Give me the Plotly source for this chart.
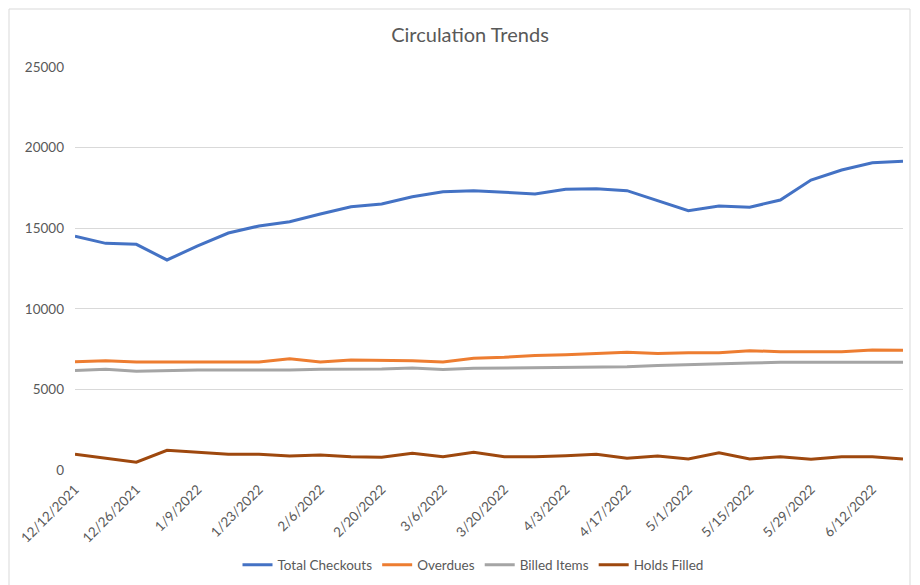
import plotly.graph_objects as go

dates = ["12/12/2021", "12/19/2021", "12/26/2021", "1/2/2022", "1/9/2022", "1/16/2022",
         "1/23/2022", "1/30/2022", "2/6/2022", "2/13/2022", "2/20/2022", "2/27/2022",
         "3/6/2022", "3/13/2022", "3/20/2022", "3/27/2022", "4/3/2022", "4/10/2022",
         "4/17/2022", "4/24/2022", "5/1/2022", "5/8/2022", "5/15/2022", "5/22/2022",
         "5/29/2022", "6/5/2022", "6/12/2022", "6/19/2022"]

total_checkouts = [14510, 14060, 14000, 13030, 13900, 14700, 15140, 15400, 15880, 16330,
                   16500, 16950, 17260, 17330, 17230, 17120, 17410, 17450, 17330, 16700,
                   16090, 16380, 16300, 16750, 17990, 18610, 19060, 19150]
overdues = [6720, 6780, 6700, 6700, 6660, 6700, 6700, 6900, 6700, 6820,
            6800, 6780, 6700, 6930, 6990, 7110, 7150, 7240, 7300, 7220,
            7280, 7280, 7400, 7340, 7340, 7340, 7440, 7430]
billed_items = [6180, 6245, 6120, 6170, 6200, 6200, 6200, 6200, 6250, 6260,
                6260, 6320, 6240, 6310, 6330, 6350, 6350, 6370, 6410, 6490,
                6550, 6600, 6640, 6680, 6680, 6680, 6680, 6680]
holds_filled = [970, 725, 480, 1220, 1100, 975, 975, 870, 930, 825,
                785, 1035, 825, 1100, 825, 825, 890, 970, 725, 870,
                680, 1075, 680, 825, 660, 825, 825, 680]

tick_labels = dates[::2]
y_ticks = [0, 5000, 10000, 15000, 20000, 25000]
y_tick_text = ["0", "5000", "10000", "15000", "20000", "25000"]

series = [
    ("Total Checkouts", total_checkouts, "#4472C4"),
    ("Overdues", overdues, "#ED7D31"),
    ("Billed Items", billed_items, "#A5A5A5"),
    ("Holds Filled", holds_filled, "#9E480E"),
]

FONT = "Lato"
TXT = "#595959"
W, H = 912, 577          # page body has an 8px margin
L, R, T, B = 67, 17, 59, 115
PW, PH = W - L - R, H - T - B

fig = go.Figure()
for name, vals, color in series:
    fig.add_trace(go.Scatter(x=dates, y=vals, name=name, mode="lines",
                             line=dict(color=color, width=3)))

fig.update_layout(
    width=W, height=H,
    margin=dict(l=L, r=R, t=T, b=B, autoexpand=False),
    paper_bgcolor="white", plot_bgcolor="white",
    font=dict(family=FONT, size=13.5, color=TXT),
    title=dict(text="Circulation Trends", xref="paper", x=(462 - L) / PW, xanchor="center",
               yref="container", y=1 - 27 / H, yanchor="middle",
               font=dict(family=FONT, size=20, color=TXT)),
    showlegend=True,
    legend=dict(orientation="h", x=(465 - L) / PW, xanchor="center",
                y=-(557 - (T + PH)) / PH, yanchor="middle",
                font=dict(family=FONT, size=13.5, color=TXT), itemwidth=30,
                bgcolor="rgba(0,0,0,0)"),
    xaxis=dict(type="category", range=[0, len(dates) - 1], tickmode="array",
               tickvals=tick_labels, ticktext=tick_labels, tickangle=-45,
               showgrid=False, showline=False, zeroline=False, ticks="",
               ticklabelstandoff=8,
               tickfont=dict(family=FONT, size=13.5, color=TXT)),
    yaxis=dict(range=[0, 25000], tickmode="array", tickvals=y_ticks, ticktext=y_tick_text,
               showgrid=True, gridcolor="#D9D9D9", gridwidth=1, zeroline=False,
               showline=False, ticks="", ticklabelstandoff=10,
               tickfont=dict(family=FONT, size=13.5, color=TXT)),
)

fig.add_shape(type="rect", xref="paper", yref="paper",
              x0=(1 - L) / PW, x1=(902 - L) / PW,
              y0=-(600 - (T + PH)) / PH, y1=(T + PH - 1) / PH,
              line=dict(color="#D9D9D9", width=1), fillcolor="rgba(0,0,0,0)",
              layer="below")

fig.write_html("out.html")
